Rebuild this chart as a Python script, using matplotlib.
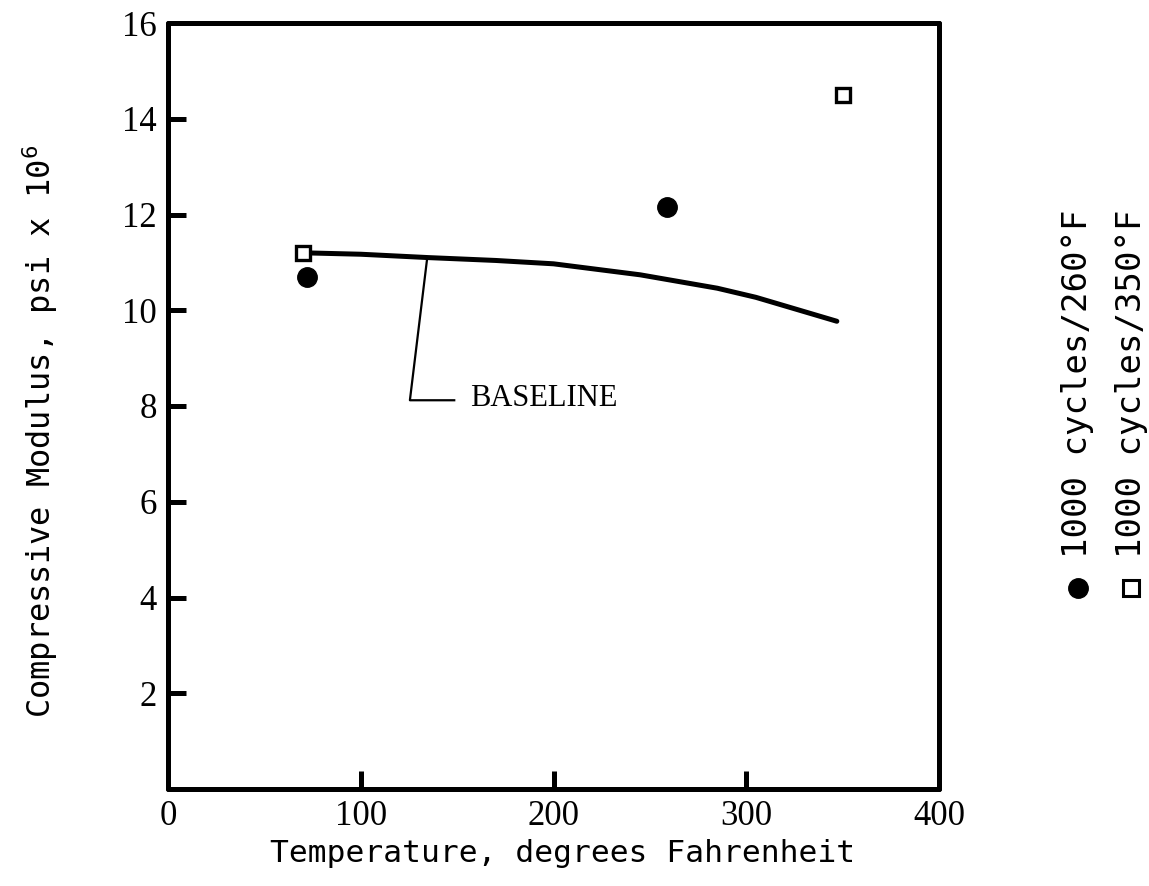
import matplotlib
matplotlib.use("Agg")
import matplotlib.pyplot as plt

# ---- data ----
baseline_x = [70, 100, 135, 170, 200, 245, 285, 305, 347]
baseline_y = [11.2, 11.17, 11.1, 11.04, 10.97, 10.74, 10.46, 10.27, 9.77]

cyc260_x = [72, 259]
cyc260_y = [10.7, 12.15]

cyc350_x = [70, 350]
cyc350_y = [11.2, 14.5]

x_ticks = [0, 100, 200, 300, 400]
y_ticks = [2, 4, 6, 8, 10, 12, 14, 16]

legend_labels = ["1000 cycles/260\u00b0F", "1000 cycles/350\u00b0F"]

FONT = "DejaVu Sans Mono"
TICKFONT = "Liberation Serif"
plt.rcParams["font.family"] = [FONT]
plt.rcParams["mathtext.fontset"] = "custom"
plt.rcParams["mathtext.rm"] = FONT
plt.rcParams["mathtext.it"] = FONT
plt.rcParams["mathtext.bf"] = FONT

W, H = 1149, 886
fig = plt.figure(figsize=(W / 100, H / 100), dpi=100)
ax = fig.add_axes([168 / W, 1 - 789 / H, (939 - 168) / W, (789 - 23) / H])

ax.set_xlim(0, 400)
ax.set_ylim(0, 16)

for s in ax.spines.values():
    s.set_linewidth(3.6)
    s.set_capstyle("round")

# baseline curve
ax.plot(baseline_x, baseline_y, color="black", lw=3.6, solid_capstyle="round", zorder=3)

# data points
ax.plot(cyc260_x, cyc260_y, "o", color="black", ms=14, zorder=4)
ax.plot(cyc350_x, cyc350_y, "s", mfc="white", mec="black", mew=2.4, ms=10.5, zorder=5)

# BASELINE annotation (leader line)
ax.plot([134.5, 125.5, 148.5], [11.1, 8.12, 8.12], color="black", lw=1.6, zorder=2)
ax.text(156.5, 8.15, "BASELINE", fontsize=22, family="Liberation Serif",
        ha="left", va="center")

# ticks
ax.set_xticks(x_ticks)
ax.set_yticks(y_ticks)
ax.tick_params(axis="both", direction="in", length=13, width=3.6, pad=8)
ax.tick_params(axis="x", pad=8)
for lab in ax.get_xticklabels() + ax.get_yticklabels():
    lab.set_fontfamily(TICKFONT)
    lab.set_fontsize(25)
for t in ax.xaxis.get_major_ticks():
    if t.get_loc() in (0, 400):
        t.tick1line.set_visible(False)
for t in ax.yaxis.get_major_ticks():
    if t.get_loc() == 16:
        t.tick1line.set_visible(False)

ax.set_xlabel("Temperature, degrees Fahrenheit", fontsize=22.5, va="center", ha="center")
ax.xaxis.set_label_coords((563 - 168) / 771, (789 - 853) / 766)
ax.set_ylabel(r"Compressive Modulus, psi x 10$^{6}$", fontsize=23, va="center", ha="center")
ax.yaxis.set_label_coords((40 - 168) / 771, (789 - 431) / 766)

# legend (rotated text with markers below)
leg_x = [1078 / W, 1131 / W]
leg_text_bottom = 1 - 558 / H
leg_marker_y = 1 - 588 / H
for i, lab in enumerate(legend_labels):
    fig.text(leg_x[i], leg_text_bottom, lab, rotation=90, fontsize=24.5,
             ha="center", va="bottom")
ax.plot([leg_x[0]], [leg_marker_y], "o", color="black", ms=14,
        transform=fig.transFigure, clip_on=False)
ax.plot([leg_x[1]], [leg_marker_y], "s", mfc="white", mec="black", mew=2.2,
        ms=11, transform=fig.transFigure, clip_on=False)

fig.savefig("out.png", dpi=100)
